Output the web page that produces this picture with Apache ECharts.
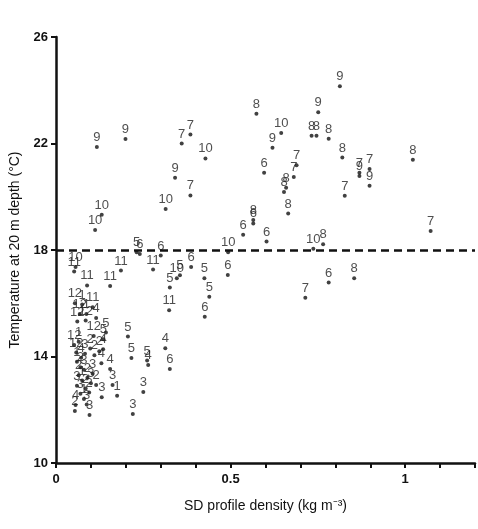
<!DOCTYPE html>
<html>
<head>
<meta charset="utf-8">
<script src="https://cdn.jsdelivr.net/npm/echarts@6/dist/echarts.min.js"></script>
<style>html,body{margin:0;padding:0;background:#fff}#chart{width:478px;height:529px}</style>
</head>
<body>
<div id="chart"></div>
<script>
// SD profile density (kg m-3), temperature at 20 m (°C), station label
const density = [
  0.117,0.199,0.360,0.385,0.428,0.341,0.385,0.314,0.131,0.112,
  0.574,0.620,0.596,0.536,0.603,0.493,0.565,0.565,
  0.813,0.751,0.645,0.732,0.746,0.781,0.820,0.689,0.681,0.659,0.653,0.898,0.869,0.869,0.898,0.827,0.665,1.022,1.073,0.737,0.765,0.492,0.714,0.781,0.854,
  0.231,0.240,0.300,0.278,0.186,0.346,0.355,0.387,0.326,0.425,0.439,0.426,0.324,0.206,0.216,0.261,0.264,0.313,0.326,0.250,0.220,
  0.056,0.052,0.089,0.155,0.054,0.075,0.068,0.087,0.105,0.115,0.061,0.085,0.108,0.136,0.143,
  0.052,0.065,0.083,0.098,0.110,0.124,0.135,0.130,0.155,0.162,0.175,0.115,0.131,0.056,0.054,0.096,
  0.060,0.070,0.080,0.065,0.075,0.090,0.060,0.085,0.070,0.095,0.080,0.100,0.058,0.072,0.105,0.088
];
const temperature = [
  21.87,22.17,22.00,22.34,21.44,20.71,20.05,19.54,19.32,18.75,
  23.12,21.84,20.90,18.57,18.32,17.92,19.13,19.00,
  24.15,23.17,22.39,22.29,22.29,22.18,21.47,21.18,20.74,20.34,20.18,21.04,20.90,20.78,20.41,20.04,19.37,21.39,18.71,18.05,18.22,17.06,16.21,16.78,16.94,
  17.92,17.85,17.79,17.27,17.23,16.94,17.05,17.36,16.59,16.94,16.24,15.49,15.74,14.75,13.94,13.85,13.68,14.31,13.53,12.67,11.84,
  17.36,17.19,16.67,16.65,16.00,15.95,15.60,15.60,15.85,15.45,15.31,15.35,14.77,14.65,14.90,
  14.43,14.55,14.10,14.30,14.05,14.20,14.27,13.75,13.53,12.93,12.53,12.93,12.47,12.18,11.95,11.80,
  13.80,13.60,13.50,13.30,13.10,13.20,12.90,12.80,12.60,12.65,12.40,13.00,14.15,13.95,13.35,12.20
];
const station = [
  9,9,7,7,10,9,7,10,10,10,
  8,9,6,6,6,10,8,6,
  9,9,10,8,8,8,8,7,7,8,8,7,7,9,9,7,8,8,7,10,8,6,7,6,8,
  5,6,6,11,11,10,5,6,5,5,5,6,11,5,5,5,4,4,6,3,3,
  10,11,11,11,12,1,12,1,11,4,12,12,12,5,5,
  12,1,3,2,2,2,4,4,4,3,1,2,3,4,2,3,
  1,2,3,2,1,2,3,2,3,2,1,3,12,4,3,3
];
const xTicks = [0, 0.5, 1];

const points = density.map((d, i) => [d, temperature[i], station[i]]);
const chart = echarts.init(document.getElementById('chart'));
const axisFont = {fontFamily: 'Liberation Sans, Arial', color: '#111'};
chart.setOption({
  animation: false,
  grid: {left: 51, right: 2, top: 37, bottom: 66},
  xAxis: {
    type: 'value', min: 0, max: 1.2, interval: 0.1,
    name: 'SD profile density (kg m⁻³)', nameLocation: 'middle', nameGap: 36,
    nameTextStyle: Object.assign({fontSize: 14}, axisFont),
    axisLine: {lineStyle: {color: '#111', width: 2.5}},
    axisTick: {length: 5, lineStyle: {color: '#111', width: 2}},
    splitLine: {show: false},
    axisLabel: Object.assign({fontSize: 13, fontWeight: 'bold', margin: 10,
      formatter: v => xTicks.some(t => Math.abs(t - v) < 1e-6) ? String(+v.toFixed(1)) : ''}, axisFont)
  },
  yAxis: {
    type: 'value', min: 10, max: 26, interval: 4,
    name: 'Temperature at 20 m depth (°C)', nameLocation: 'middle', nameGap: 34,
    nameTextStyle: Object.assign({fontSize: 14}, axisFont),
    axisLine: {show: true, lineStyle: {color: '#111', width: 2.5}},
    axisTick: {show: true, length: 5, lineStyle: {color: '#111', width: 2}},
    splitLine: {show: false},
    axisLabel: Object.assign({fontSize: 13, fontWeight: 'bold', margin: 8}, axisFont)
  },
  series: [{
    type: 'scatter',
    data: points,
    symbolSize: 4,
    itemStyle: {color: '#111'},
    label: {
      show: true, position: 'top', distance: 1,
      formatter: p => p.value[2],
      fontSize: 13, color: '#222', fontFamily: 'Liberation Sans, Arial'
    },
    labelLayout: {hideOverlap: false},
    markLine: {
      silent: true, symbol: 'none', label: {show: false},
      lineStyle: {color: '#111', type: [8, 5], width: 2.5},
      data: [{yAxis: 18}]
    }
  }]
});
</script>
</body>
</html>
